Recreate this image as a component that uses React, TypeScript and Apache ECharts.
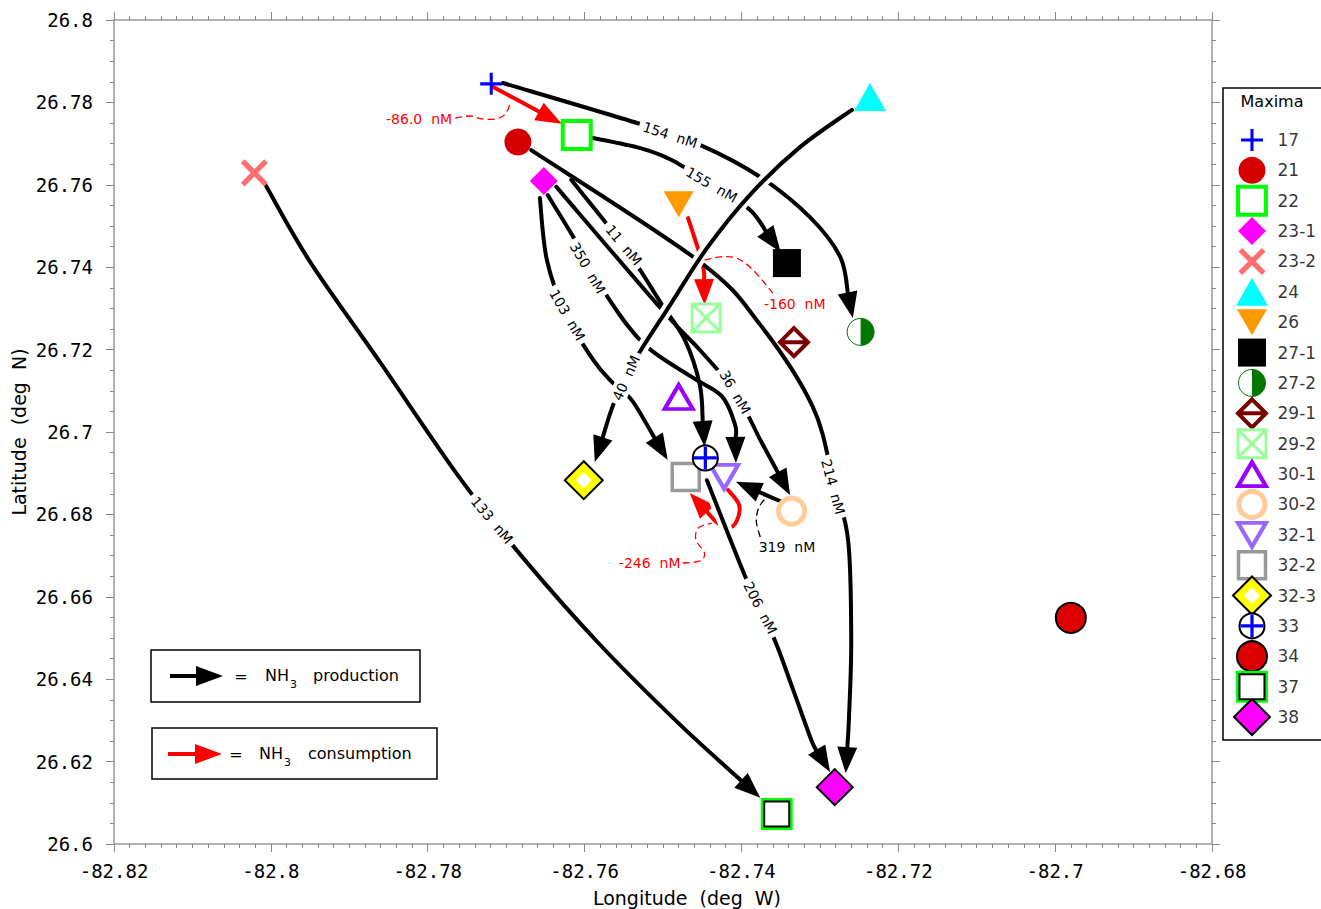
import React, { useEffect, useRef } from 'react';
import * as echarts from 'echarts';

// ---------------- data ----------------
const stationNames = ['17', '21', '22', '23-1', '23-2', '24', '26', '27-1', '27-2', '29-1', '29-2', '30-1', '30-2', '32-1', '32-2', '32-3', '33', '34', '37', '38'];
const stationLon = [-82.7719, -82.7685, -82.7610, -82.7652, -82.8021, -82.7236, -82.7480, -82.7342, -82.7248, -82.7333, -82.7445, -82.7480, -82.7336, -82.7422, -82.7471, -82.7601, -82.7446, -82.6980, -82.7355, -82.7281];
const stationLat = [26.7845, 26.7704, 26.7721, 26.7609, 26.7629, 26.7813, 26.7553, 26.7410, 26.7243, 26.7218, 26.7277, 26.7085, 26.6808, 26.6891, 26.6891, 26.6883, 26.6937, 26.6549, 26.6073, 26.6138];

const lonMin = -82.82;
const lonMax = -82.68;
const lonStep = 0.02;
const latMin = 26.6;
const latMax = 26.8;
const latStep = 0.02;

// production (black) flux paths, [lon, lat] points, last point is the arrow tip
const path154 = [[-82.7704, 26.7847], [-82.7533, 26.7750], [-82.7453, 26.7697], [-82.7376, 26.7619], [-82.7313, 26.7522], [-82.7274, 26.7425], [-82.7259, 26.7340], [-82.7258, 26.7277]];
const path155 = [[-82.7591, 26.7714], [-82.7529, 26.7689], [-82.7489, 26.7660], [-82.7438, 26.7600], [-82.7389, 26.7539], [-82.7350, 26.7437]];
const path214 = [[-82.7668, 26.7684], [-82.7453, 26.7413], [-82.7376, 26.7260], [-82.7309, 26.7061], [-82.7283, 26.6883], [-82.7264, 26.6738], [-82.7260, 26.6495], [-82.7263, 26.6301], [-82.7267, 26.6172]];
const path103 = [[-82.7657, 26.7568], [-82.7648, 26.7417], [-82.7624, 26.7286], [-82.7589, 26.7175], [-82.7565, 26.7121], [-82.7540, 26.7078], [-82.7494, 26.6932]];
const path350 = [[-82.7647, 26.7575], [-82.7612, 26.7466], [-82.7568, 26.7320], [-82.7523, 26.7211], [-82.7463, 26.7133], [-82.7425, 26.7087], [-82.7408, 26.7017], [-82.7407, 26.6925]];
const path36 = [[-82.7636, 26.7595], [-82.7501, 26.7296], [-82.7453, 26.7199], [-82.7408, 26.7097], [-82.7376, 26.6981], [-82.7338, 26.6847]];
const path11 = [[-82.7617, 26.7612], [-82.7549, 26.7449], [-82.7501, 26.7308], [-82.7472, 26.7223], [-82.7453, 26.7114], [-82.7447, 26.6964]];
const path133 = [[-82.8006, 26.7597], [-82.7950, 26.7413], [-82.7861, 26.7170], [-82.7759, 26.6888], [-82.7676, 26.6689], [-82.7580, 26.6483], [-82.7478, 26.6289], [-82.7376, 26.6112]];
const path319 = [[-82.7348, 26.6830], [-82.7407, 26.6879]];
const path206 = [[-82.7444, 26.6883], [-82.7396, 26.6653], [-82.7376, 26.6573], [-82.7355, 26.6483], [-82.7334, 26.6374], [-82.7310, 26.6248], [-82.7287, 26.6175]];
const path40 = [[-82.7259, 26.7782], [-82.7325, 26.7692], [-82.7387, 26.7580], [-82.7443, 26.7449], [-82.7491, 26.7308], [-82.7534, 26.7180], [-82.7562, 26.7073], [-82.7587, 26.6927]];

// consumption (red) flux paths
const path86 = [[-82.7716, 26.7837], [-82.7629, 26.7748]];
const path160 = [[-82.7468, 26.7519], [-82.7454, 26.7437], [-82.7448, 26.7393], [-82.7447, 26.7308]];
const path246 = [[-82.7417, 26.6859], [-82.7403, 26.6823], [-82.7406, 26.6784], [-82.7417, 26.6767], [-82.7432, 26.6782], [-82.7466, 26.6852]];

const consumptionPaths = [path86, path160, path246];
const productionPaths = [path154, path155, path214, path103, path350, path36, path11, path133, path319];
const crossingPaths = [path206, path40]; // drawn on top, with a white gap around them

// flux labels
const fluxText = ['154  nM', '155  nM', '214  nM', '40  nM', '103  nM', '350  nM', '36  nM', '11  nM', '206  nM', '133  nM', '319  nM', '-86.0  nM', '-160  nM', '-246  nM'];
const fluxLon = [-82.7491, -82.7438, -82.7283, -82.7547, -82.7622, -82.7596, -82.7408, -82.7550, -82.7376, -82.7718, -82.7342, -82.7811, -82.7332, -82.7517];
const fluxLat = [26.7721, 26.7600, 26.6867, 26.7131, 26.7284, 26.7398, 26.7097, 26.7454, 26.6573, 26.6786, 26.6721, 26.7760, 26.7311, 26.6682];
const fluxAngle = [-18, -30, -75, 66, -60, -60, -60, -50, -63, -50, 0, 0, 0, 0];
const fluxNegative = [false, false, false, false, false, false, false, false, false, false, false, true, true, true];

// dashed leader lines from labels to arrows
const leader86 = [[-82.7765, 26.7762], [-82.7746, 26.7767], [-82.7731, 26.7760], [-82.7713, 26.7760], [-82.7701, 26.7772], [-82.7695, 26.7796]];
const leader160 = [[-82.7447, 26.7417], [-82.7427, 26.7425], [-82.7406, 26.7422], [-82.7385, 26.7393], [-82.7360, 26.7337]];
const leader246 = [[-82.7475, 26.6682], [-82.7453, 26.6687], [-82.7447, 26.6706], [-82.7458, 26.6738], [-82.7455, 26.6767], [-82.7438, 26.6779]];
const leader319 = [[-82.7376, 26.6745], [-82.7381, 26.6782], [-82.7378, 26.6816], [-82.7369, 26.6840]];
const leaderPaths = [leader86, leader160, leader246, leader319];
const leaderNegative = [true, true, true, false];

// ---------------- styles ----------------
const RED = '#FF0000';
const PLUS = 'path://M-1,-0.14L1,-0.14L1,0.14L-1,0.14ZM-0.14,-1L0.14,-1L0.14,1L-0.14,1Z';
const CROSS = 'path://M-1,-0.16L1,-0.16L1,0.16L-1,0.16ZM-0.16,-1L0.16,-1L0.16,1L-0.16,1Z';
const HALF = 'path://M0,-1C0.5523,-1 1,-0.5523 1,0C1,0.5523 0.5523,1 0,1Z';
const DIAMOND_BAR = 'path://M0,-1L1,0L0,1L-1,0ZM-1,0L1,0';
const BOX_X = 'path://M-1,-1L1,-1L1,1L-1,1ZM-1,-1L1,1M1,-1L-1,1';

type Layer = { symbol: string; size: number | number[]; color: string; borderColor?: string; borderWidth?: number; rotate?: number; offset?: number[] };
const markerStyle: Record<string, Layer[]> = {
  '17': [{ symbol: PLUS, size: 22, color: '#0000FF' }],
  '21': [{ symbol: 'circle', size: 27, color: '#D40000' }],
  '22': [{ symbol: 'rect', size: 28, color: '#FFFFFF', borderColor: '#00FF00', borderWidth: 4 }],
  '23-1': [{ symbol: 'diamond', size: 28, color: '#FF00FF' }],
  '23-2': [{ symbol: CROSS, size: 33, color: '#FF6F6F', rotate: 45 }],
  '24': [{ symbol: 'triangle', size: [32, 28], color: '#00FFFF' }],
  '26': [{ symbol: 'triangle', size: [30, 26], color: '#FF9900', rotate: 180 }],
  '27-1': [{ symbol: 'rect', size: 28, color: '#000000' }],
  '27-2': [
    { symbol: 'circle', size: 27, color: '#FFFFFF', borderColor: '#007700', borderWidth: 1 },
    { symbol: HALF, size: [13.5, 27], color: '#007700', offset: [6.75, 0] },
  ],
  '29-1': [{ symbol: DIAMOND_BAR, size: 28, color: '#FFFFFF', borderColor: '#7A0000', borderWidth: 4 }],
  '29-2': [{ symbol: BOX_X, size: 28, color: '#FFFFFF', borderColor: '#99FF99', borderWidth: 3 }],
  '30-1': [{ symbol: 'triangle', size: [28, 24], color: '#FFFFFF', borderColor: '#9900FF', borderWidth: 4 }],
  '30-2': [{ symbol: 'circle', size: 26, color: '#FFFFFF', borderColor: '#FFCC99', borderWidth: 5 }],
  '32-1': [{ symbol: 'triangle', size: [28, 24], color: '#FFFFFF', borderColor: '#9966FF', borderWidth: 4, rotate: 180 }],
  '32-2': [{ symbol: 'rect', size: 27, color: '#FFFFFF', borderColor: '#999999', borderWidth: 3.5 }],
  '32-3': [
    { symbol: 'diamond', size: 38, color: '#FFFF00', borderColor: '#000000', borderWidth: 2 },
    { symbol: 'diamond', size: 16, color: '#FFFFFF' },
  ],
  '33': [
    { symbol: 'circle', size: 25, color: '#FFFFFF', borderColor: '#000000', borderWidth: 2 },
    { symbol: PLUS, size: 23, color: '#0000FF' },
  ],
  '34': [{ symbol: 'circle', size: 30, color: '#DD0000', borderColor: '#000000', borderWidth: 2 }],
  '37': [
    { symbol: 'rect', size: 32, color: '#00FF00' },
    { symbol: 'rect', size: 25, color: '#FFFFFF', borderColor: '#000000', borderWidth: 2 },
  ],
  '38': [{ symbol: 'diamond', size: 36, color: '#FF00FF', borderColor: '#000000', borderWidth: 2 }],
};

const SANS = '"DejaVu Sans", Verdana, sans-serif';
const MONO = '"DejaVu Sans Mono", monospace';

// Catmull-Rom spline through pixel points, as SVG path data
function splinePath(pts: number[][]): string {
  const n = pts.length;
  let d = `M${pts[0][0].toFixed(2)},${pts[0][1].toFixed(2)}`;
  for (let i = 0; i < n - 1; i++) {
    const p0 = pts[i - 1] || pts[i];
    const p1 = pts[i];
    const p2 = pts[i + 1];
    const p3 = pts[i + 2] || pts[i + 1];
    const c1x = p1[0] + (p2[0] - p0[0]) / 6;
    const c1y = p1[1] + (p2[1] - p0[1]) / 6;
    const c2x = p2[0] - (p3[0] - p1[0]) / 6;
    const c2y = p2[1] - (p3[1] - p1[1]) / 6;
    d += `C${c1x.toFixed(2)},${c1y.toFixed(2)} ${c2x.toFixed(2)},${c2y.toFixed(2)} ${p2[0].toFixed(2)},${p2[1].toFixed(2)}`;
  }
  return d;
}

function buildOption(): any {
  const arrowPaths = [...consumptionPaths, ...productionPaths, ...crossingPaths];
  const arrowColor = [...consumptionPaths.map(() => RED), ...productionPaths.map(() => '#000'), ...crossingPaths.map(() => '#000')];
  const arrowHalo = [...consumptionPaths.map(() => false), ...productionPaths.map(() => false), ...crossingPaths.map(() => true)];

  const HEAD_LEN = 26;
  const HEAD_W = 10;

  const arrowRender = (params: any, api: any) => {
    const i = params.dataIndex;
    const px: number[][] = arrowPaths[i].map((p) => api.coord(p));
    const tip = px[px.length - 1];
    let k = px.length - 2;
    while (k > 0 && Math.hypot(tip[0] - px[k][0], tip[1] - px[k][1]) < HEAD_LEN * 1.2) k--;
    let dx = tip[0] - px[k][0];
    let dy = tip[1] - px[k][1];
    const L = Math.hypot(dx, dy) || 1;
    dx /= L; dy /= L;
    const base = [tip[0] - dx * HEAD_LEN, tip[1] - dy * HEAD_LEN];
    const linePts = px.slice(0, k + 1).concat([[base[0] + dx * 3, base[1] + dy * 3]]);
    const b1 = [base[0] - dy * HEAD_W, base[1] + dx * HEAD_W];
    const b2 = [base[0] + dy * HEAD_W, base[1] - dx * HEAD_W];
    const d = splinePath(linePts);
    const children: any[] = [];
    if (arrowHalo[i]) {
      children.push({ type: 'path', shape: { pathData: d }, style: { stroke: '#FFFFFF', lineWidth: 12, fill: 'none', lineCap: 'butt' } });
    }
    children.push({ type: 'path', shape: { pathData: d }, style: { stroke: arrowColor[i], lineWidth: 4, fill: 'none', lineCap: 'round', lineJoin: 'round' } });
    children.push({ type: 'polygon', shape: { points: [tip, b1, b2] }, style: { fill: arrowColor[i], stroke: 'none' } });
    return { type: 'group', children };
  };

  const leaderRender = (params: any, api: any) => {
    const i = params.dataIndex;
    const px = leaderPaths[i].map((p) => api.coord(p));
    return {
      type: 'path',
      shape: { pathData: splinePath(px) },
      style: { stroke: leaderNegative[i] ? RED : '#000', lineWidth: 1.3, lineDash: [7, 4], fill: 'none' },
    };
  };

  const labelRender = (params: any, api: any) => {
    const i = params.dataIndex;
    const [x, y] = api.coord([fluxLon[i], fluxLat[i]]);
    return {
      type: 'text',
      x, y,
      rotation: (fluxAngle[i] * Math.PI) / 180,
      style: {
        text: fluxText[i],
        fill: fluxNegative[i] ? RED : '#000',
        font: `14px ${SANS}`,
        align: 'center',
        verticalAlign: 'middle',
        backgroundColor: fluxAngle[i] !== 0 ? '#FFFFFF' : 'transparent',
        padding: [2, 4],
      },
    };
  };

  const markerSeries: any[] = [];
  stationNames.forEach((name, i) => {
    markerStyle[name].forEach((Ly, k) => {
      const common = {
        type: 'scatter',
        symbol: Ly.symbol,
        symbolSize: Ly.size,
        symbolRotate: Ly.rotate || 0,
        symbolOffset: Ly.offset || [0, 0],
        itemStyle: { color: Ly.color, borderColor: Ly.borderColor || 'transparent', borderWidth: Ly.borderWidth || 0, opacity: 1 },
        silent: true,
        emphasis: { disabled: true },
        z: 10 + k,
        animation: false,
      };
      markerSeries.push({ ...common, xAxisIndex: 0, yAxisIndex: 0, data: [[stationLon[i], stationLat[i]]] });
      markerSeries.push({ ...common, xAxisIndex: 2, yAxisIndex: 2, data: [[0.333, i]] });
    });
  });

  const axisLineStyle = { color: '#999999', width: 1.5 };
  const tickStyle = { color: '#888888', width: 1 };

  const xMain = {
    type: 'value', min: lonMin, max: lonMax, interval: lonStep, gridIndex: 0,
    axisLine: { show: true, onZero: false, lineStyle: axisLineStyle },
    axisTick: { show: true, length: 8, inside: false, lineStyle: tickStyle },
    minorTick: { show: true, splitNumber: 10, length: 4, lineStyle: tickStyle },
    splitLine: { show: false }, minorSplitLine: { show: false },
  };
  const yMain = {
    type: 'value', min: latMin, max: latMax, interval: latStep, gridIndex: 0,
    axisLine: { show: true, onZero: false, lineStyle: axisLineStyle },
    axisTick: { show: true, length: 8, inside: false, lineStyle: tickStyle },
    minorTick: { show: true, splitNumber: 4, length: 4, lineStyle: tickStyle },
    splitLine: { show: false }, minorSplitLine: { show: false },
  };

  const graphic: any[] = [
    { type: 'rect', shape: { x: 1223, y: 88, width: 120, height: 652 }, style: { fill: 'none', stroke: '#000', lineWidth: 1.5 }, z: 1 },
    { type: 'text', x: 1272, y: 101, style: { text: 'Maxima', font: `16px ${SANS}`, fill: '#000', align: 'center', verticalAlign: 'middle' }, z: 1 },
    // production legend
    { type: 'rect', shape: { x: 151, y: 650, width: 269, height: 52 }, style: { fill: '#fff', stroke: '#000', lineWidth: 1.5 }, z: 1 },
    { type: 'line', shape: { x1: 170, y1: 676, x2: 200, y2: 676 }, style: { stroke: '#000', lineWidth: 4 }, z: 2 },
    { type: 'polygon', shape: { points: [[223, 676], [196, 666], [196, 686]] }, style: { fill: '#000' }, z: 2 },
    { type: 'text', x: 241, y: 676, style: { text: '=', font: `16px ${SANS}`, fill: '#000', align: 'center', verticalAlign: 'middle' }, z: 2 },
    { type: 'text', x: 265, y: 675, style: { text: 'NH', font: `16px ${SANS}`, fill: '#000', align: 'left', verticalAlign: 'middle' }, z: 2 },
    { type: 'text', x: 290, y: 684, style: { text: '3', font: `11px ${SANS}`, fill: '#000', align: 'left', verticalAlign: 'middle' }, z: 2 },
    { type: 'text', x: 313, y: 675, style: { text: 'production', font: `16px ${SANS}`, fill: '#000', align: 'left', verticalAlign: 'middle' }, z: 2 },
    // consumption legend
    { type: 'rect', shape: { x: 152, y: 728, width: 285, height: 51 }, style: { fill: '#fff', stroke: '#000', lineWidth: 1.5 }, z: 1 },
    { type: 'line', shape: { x1: 168, y1: 754, x2: 200, y2: 754 }, style: { stroke: RED, lineWidth: 4 }, z: 2 },
    { type: 'polygon', shape: { points: [[222, 754], [195, 744], [195, 764]] }, style: { fill: RED }, z: 2 },
    { type: 'text', x: 236, y: 754, style: { text: '=', font: `16px ${SANS}`, fill: '#000', align: 'center', verticalAlign: 'middle' }, z: 2 },
    { type: 'text', x: 259, y: 753, style: { text: 'NH', font: `16px ${SANS}`, fill: '#000', align: 'left', verticalAlign: 'middle' }, z: 2 },
    { type: 'text', x: 284, y: 762, style: { text: '3', font: `11px ${SANS}`, fill: '#000', align: 'left', verticalAlign: 'middle' }, z: 2 },
    { type: 'text', x: 308, y: 753, style: { text: 'consumption', font: `16px ${SANS}`, fill: '#000', align: 'left', verticalAlign: 'middle' }, z: 2 },
  ];

  return {
    animation: false,
    backgroundColor: '#FFFFFF',
    grid: [
      { left: 114, right: 109, top: 20, bottom: 65, outerBoundsMode: 'none', containLabel: false },
      { left: 1240, right: 45, top: 124.8, bottom: 176.8, outerBoundsMode: 'none', containLabel: false },
    ],
    xAxis: [
      {
        ...xMain, position: 'bottom',
        axisLabel: { show: true, fontFamily: MONO, fontSize: 19, color: '#000', margin: 17 },
        name: 'Longitude  (deg  W)', nameLocation: 'middle', nameGap: 44, nameMoveOverlap: false,
        nameTextStyle: { fontFamily: SANS, fontSize: 19, color: '#000', padding: [0, 0, 0, 48] },
      },
      { ...xMain, position: 'top', axisLabel: { show: false } },
      { type: 'value', gridIndex: 1, min: 0, max: 1, show: false },
    ],
    yAxis: [
      {
        ...yMain, position: 'left',
        axisLabel: { show: true, fontFamily: MONO, fontSize: 19, color: '#000', margin: 21 },
        name: 'Latitude  (deg  N)', nameLocation: 'middle', nameGap: 86, nameMoveOverlap: false,
        nameTextStyle: { fontFamily: SANS, fontSize: 19, color: '#000' },
      },
      { ...yMain, position: 'right', axisLabel: { show: false } },
      { type: 'category', gridIndex: 1, data: stationNames, inverse: true, show: false },
    ],
    graphic,
    series: [
      {
        type: 'custom', coordinateSystem: 'cartesian2d', xAxisIndex: 0, yAxisIndex: 0,
        data: arrowPaths.map((p) => p[0]), renderItem: arrowRender, z: 3, silent: true, clip: false,
      },
      {
        type: 'custom', coordinateSystem: 'cartesian2d', xAxisIndex: 0, yAxisIndex: 0,
        data: leaderPaths.map((p) => p[0]), renderItem: leaderRender, z: 4, silent: true, clip: false,
      },
      {
        type: 'custom', coordinateSystem: 'cartesian2d', xAxisIndex: 0, yAxisIndex: 0,
        data: fluxLon.map((v, i) => [v, fluxLat[i]]), renderItem: labelRender, z: 6, silent: true, clip: false,
      },
      ...markerSeries,
      {
        type: 'scatter', xAxisIndex: 2, yAxisIndex: 2,
        data: stationNames.map((n, i) => [1, i]),
        symbolSize: 1, itemStyle: { color: 'rgba(0,0,0,0)' }, silent: true,
        label: { show: true, position: 'right', distance: 1, formatter: (p: any) => stationNames[p.dataIndex], color: '#000', fontSize: 17, fontFamily: SANS },
        z: 12,
      },
    ],
  };
}

export default function App() {
  const ref = useRef<HTMLDivElement>(null);
  useEffect(() => {
    if (!ref.current) return;
    const chart = echarts.init(ref.current, null, { renderer: 'svg' });
    chart.setOption(buildOption());
    return () => chart.dispose();
  }, []);
  return (
    <>
      <style>{'svg text { white-space: pre; }'}</style>
      <div ref={ref} style={{ position: 'absolute', left: 0, top: 0, width: 1321, height: 909 }} />
    </>
  );
}
